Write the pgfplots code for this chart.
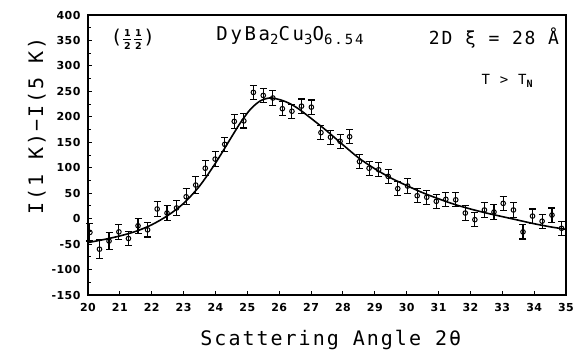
\documentclass[border=0pt]{standalone}
\usepackage{fontspec}
\usepackage{amsmath}
\setmainfont{DejaVu Sans}
\newfontfamily\plotfont[LetterSpace=10]{DejaVu Sans Mono}
\newfontfamily\wideplotfont[LetterSpace=14]{DejaVu Sans Mono}
\newfontfamily\tickfont[LetterSpace=4]{DejaVu Sans}
\usepackage{pgfplots}
\usepackage{pgfplotstable}
\pgfplotsset{compat=1.18}
\pgfplotstableread{
x y e
20.06 -27 17
20.36 -60 19
20.66 -44 16
20.97 -26 15
21.27 -39 14
21.57 -14 15
21.87 -22 14
22.17 19 15
22.48 11 15
22.78 21 15
23.08 43 16
23.38 66 16
23.68 99 15
23.99 117 15
24.29 146 14
24.59 191 14
24.89 192 14
25.19 248 14
25.50 242 14
25.80 237 14
26.10 216 14
26.40 211 14
26.70 221 14
27.01 219 14
27.31 169 14
27.61 160 14
27.91 152 14
28.21 161 14
28.52 112 14
28.82 99 14
29.12 96 14
29.42 83 14
29.72 59 14
30.03 64 14
30.33 45 14
30.63 42 14
30.93 34 14
31.23 38 14
31.54 37 14
31.84 11 14
32.14 -2 14
32.44 17 14
32.74 13 14
33.03 30 14
33.35 17 14
33.65 -26 14
33.95 5 14
34.25 -5 14
34.56 7 14
34.86 -19 14
}\datatable
\pgfplotstableread{
x y
20.0 -47
20.5 -41
21.0 -34
21.5 -25
22.0 -12
22.5 6
23.0 30
23.5 64
24.0 109
24.5 160
24.8 190
25.1 215
25.4 231
25.7 237
26.0 234
26.3 227
26.6 216
27.0 197
27.5 172
28.0 145
28.5 119
29.0 98
29.5 80
30.0 65
30.5 51
31.0 39
31.5 28
32.0 19
32.5 11
33.0 4
33.5 -3
34.0 -10
34.5 -16
35.0 -21
}\curvetable
\newcommand{\hfd}[1]{\hbox to 8pt{\hss\tickfont\bfseries\fontsize{9.5}{9.5}\selectfont #1\hss}}
\newcommand{\hf}{\raisebox{-6pt}{\vbox{\hfd{1}\kern2.2pt\hrule height 0.8pt\kern2.2pt\hfd{2}}}}
\begin{document}
\begin{tikzpicture}
\useasboundingbox (-88pt,-54pt) rectangle (488pt,295pt);
\begin{axis}[
  scale only axis, width=478pt, height=280pt,
  at={(0,0)}, anchor=south west,
  xmin=20, xmax=35, ymin=-150, ymax=400,
  xtick={20,...,35},
  ytick={-150,-100,...,400},
  minor y tick num=1,
  xtick pos=lower, ytick pos=left,
  tick align=inside,
  major tick length=4.5pt, minor tick length=3pt,
  axis line style={line width=1.2pt},
  every tick/.style={line width=0.9pt, black},
  /pgf/number format/assume math mode=true,
  tick label style={font=\tickfont\bfseries\fontsize{11}{12}\selectfont},
  xticklabel style={yshift=-5pt},
  yticklabel style={xshift=-4pt},
  xlabel={Scattering Angle 2θ},
  ylabel={I(1 K)−I(5 K)},
  every axis x label/.style={at={(axis description cs:0.508,-0.179)}, anchor=base,
     font=\plotfont\fontsize{20}{24}\selectfont},
  every axis y label/.style={at={(axis description cs:-0.094,0.604)}, anchor=base, rotate=90,
     font=\plotfont\fontsize{20}{24}\selectfont},
  clip=false,
]
\addplot[black, line width=1.6pt, smooth, no marks] table[x=x,y=y]{\curvetable};
\addplot[black, only marks, mark=o, mark size=2.3pt, mark options={line width=1pt},
  error bars/.cd, y dir=both, y explicit,
  error bar style={line width=1.1pt, black},
  error mark options={rotate=90, mark size=3.5pt, line width=1.1pt}]
  table[x=x,y=y,y error=e]{\datatable};
\node[font=\plotfont\fontsize{19}{22}\selectfont, anchor=base] at (axis cs:21.41,345) {(\kern1pt\hf\kern3pt\hf\kern1pt)};
\node[font=\wideplotfont\fontsize{19}{22}\selectfont, anchor=base] at (axis cs:26.34,349)
  {DyBa\raisebox{-0.3ex}{\fontsize{14}{14}\selectfont 2}Cu\raisebox{-0.3ex}{\fontsize{14}{14}\selectfont 3}O\raisebox{-0.3ex}{\fontsize{14}{14}\selectfont 6.54}};
\node[font=\plotfont\fontsize{18}{22}\selectfont, anchor=base] at (axis cs:32.74,343) {2D ξ = 28 Å};
\node[font=\plotfont\fontsize{14}{18}\selectfont, anchor=base] at (axis cs:33.15,264) {T > T\raisebox{-0.4ex}{\bfseries\fontsize{10}{10}\selectfont N}};
\end{axis}
\end{tikzpicture}
\end{document}
